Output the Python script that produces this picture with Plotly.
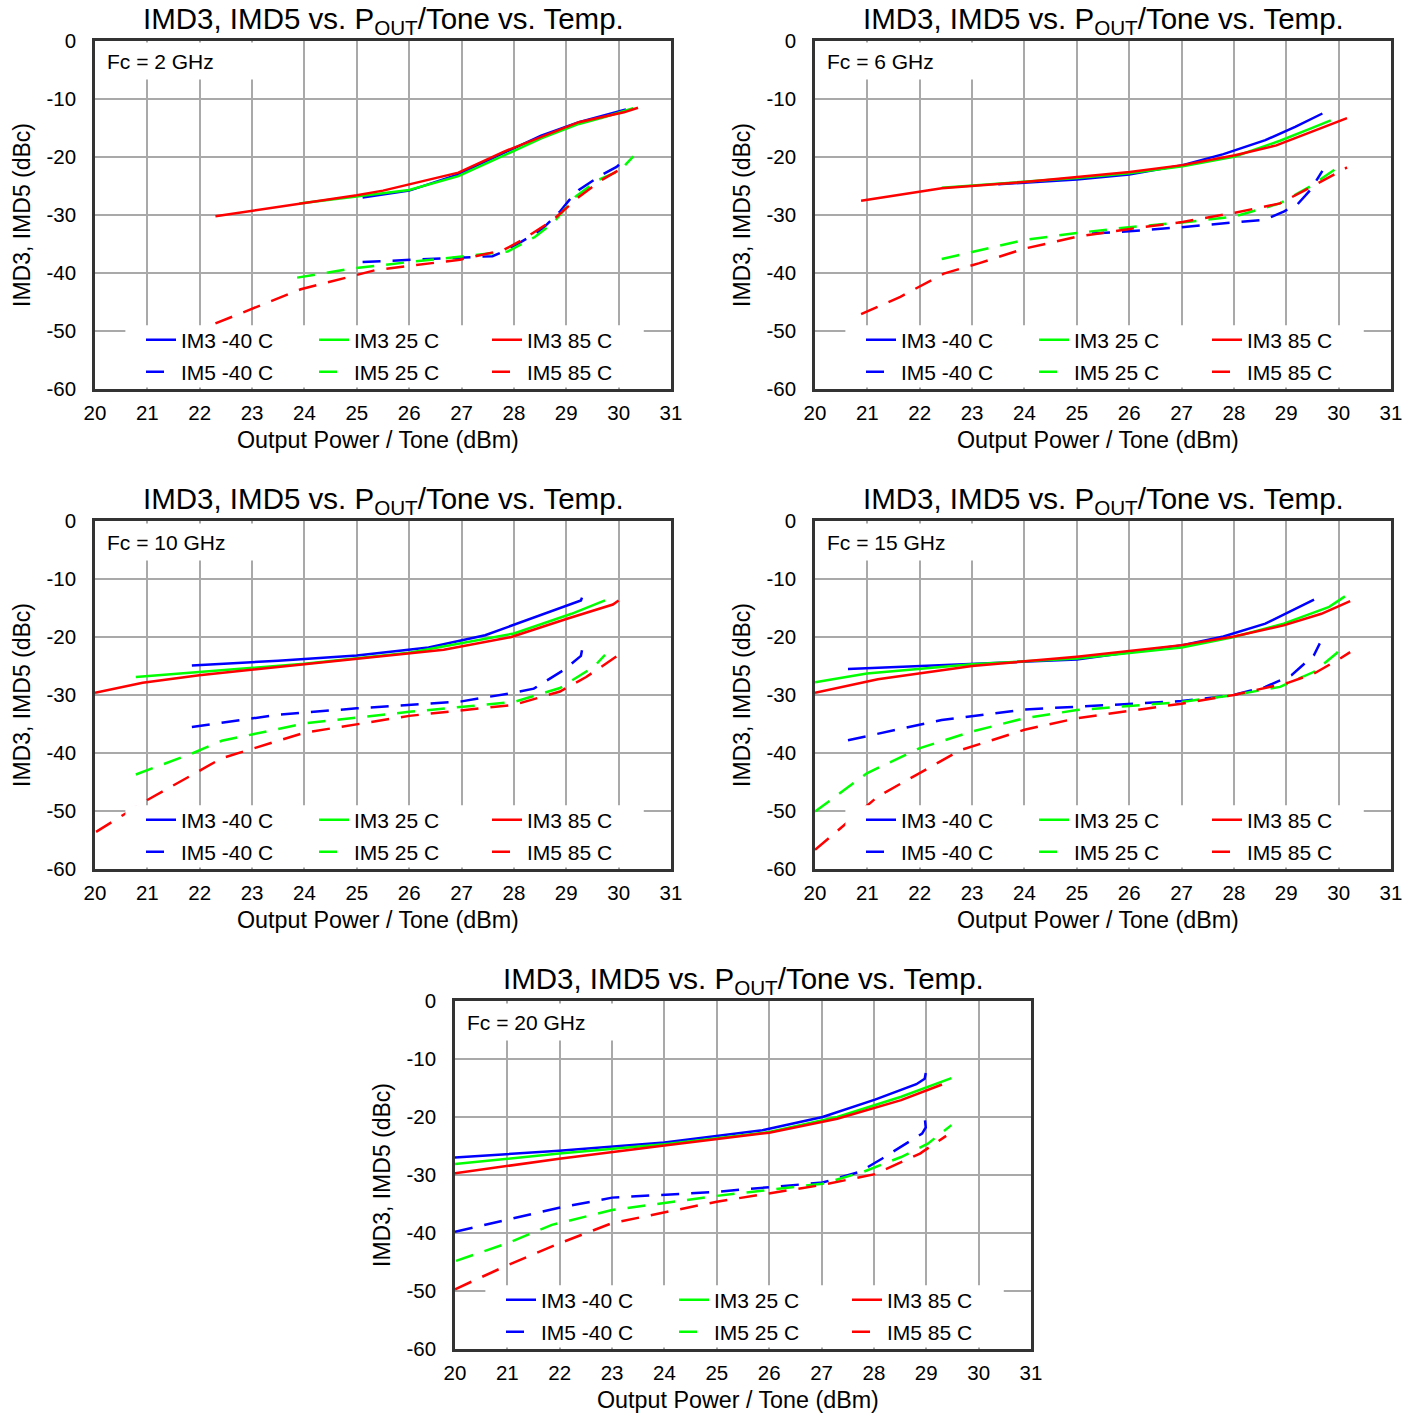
import plotly.graph_objects as go

FIG_W, FIG_H = 1417, 1414
FONT = "Liberation Sans, Arial, sans-serif"

# axis ticks
X_TICKS = list(range(20, 32))
Y_TICKS = [0, -10, -20, -30, -40, -50, -60]
Y_TICK_TEXT = ["0", "-10", "-20", "-30", "-40", "-50", "-60"]

SERIES_NAMES = ["IM3 -40 C", "IM3 25 C", "IM3 85 C", "IM5 -40 C", "IM5 25 C", "IM5 85 C"]
FC_LABELS = ["Fc = 2 GHz", "Fc = 6 GHz", "Fc = 10 GHz", "Fc = 15 GHz", "Fc = 20 GHz"]
TITLE = "IMD3, IMD5 vs. P<sub>OUT</sub>/Tone vs. Temp."

# ---- Fc = 2 GHz : (Pout/tone dBm, dBc) ----
FC2_IM3_N40 = ([25.11, 26.0, 26.94, 27.8, 28.52, 29.24, 29.7, 30.14],
               [-27.0, -25.8, -23.0, -19.3, -16.3, -14.0, -12.9, -11.8])
FC2_IM3_25 = ([23.9, 25.0, 26.0, 26.94, 27.8, 28.52, 29.24, 29.7, 30.28],
              [-28.0, -26.8, -25.7, -23.3, -19.7, -16.8, -14.3, -13.2, -11.6])
FC2_IM3_85 = ([22.3, 24.0, 25.0, 25.5, 26.94, 27.8, 28.52, 29.24, 30.1, 30.37],
              [-30.2, -28.0, -26.6, -25.8, -22.7, -19.1, -16.5, -14.0, -12.3, -11.5])
FC2_IM5_N40 = ([25.11, 26.01, 27.09, 27.59, 27.8, 28.09, 28.52, 28.88, 29.06, 29.24, 29.67, 29.96, 30.14],
               [-38.1, -37.7, -37.2, -37.1, -36.3, -34.9, -32.6, -29.4, -27.4, -25.7, -23.1, -21.7, -20.3])
FC2_IM5_25 = ([23.86, 24.93, 26.01, 27.09, 27.88, 28.4, 28.77, 28.95, 29.17, 29.6, 30.03, 30.28],
              [-40.8, -39.2, -38.1, -37.1, -36.3, -33.8, -31.2, -29.2, -26.9, -24.0, -22.3, -19.9])
FC2_IM5_85 = ([22.3, 23.93, 25.36, 26.97, 27.8, 28.16, 28.74, 29.24, 29.67, 30.17],
              [-48.7, -42.8, -39.5, -37.7, -36.05, -34.3, -30.9, -26.9, -24.0, -21.4])

# ---- Fc = 6 GHz ----
FC6_IM3_N40 = ([23.5, 25.0, 26.0, 27.02, 27.8, 28.6, 29.17, 29.69],
               [-24.7, -23.9, -23.0, -21.4, -19.5, -17.1, -14.8, -12.5])
FC6_IM3_25 = ([22.42, 25.0, 26.0, 27.02, 28.02, 28.88, 29.46, 29.85],
              [-25.3, -23.6, -22.8, -21.6, -19.9, -17.2, -15.1, -13.7])
FC6_IM3_85 = ([20.88, 22.42, 24.0, 25.0, 26.01, 27.02, 28.02, 28.81, 29.24, 29.96, 30.16],
              [-27.55, -25.4, -24.3, -23.4, -22.6, -21.4, -19.7, -18.0, -16.5, -14.1, -13.3])
FC6_IM5_N40 = ([25.29, 26.0, 27.0, 28.02, 28.6, 28.95, 29.2, 29.46, 29.69],
               [-33.2, -32.8, -32.1, -31.3, -30.8, -29.4, -28.3, -25.7, -22.4])
FC6_IM5_25 = ([22.42, 24.0, 25.0, 26.0, 27.0, 28.0, 28.88, 29.45, 29.92],
              [-37.6, -34.3, -33.1, -32.1, -31.3, -30.3, -28.0, -25.1, -22.2])
FC6_IM5_85 = ([20.88, 21.63, 22.46, 23.14, 24.0, 25.0, 26.01, 27.02, 28.02, 28.88, 29.53, 30.16],
              [-47.1, -44.1, -40.1, -38.3, -35.8, -33.75, -32.4, -31.2, -29.6, -28.0, -24.9, -21.8])

# ---- Fc = 10 GHz ----
FC10_IM3_N40 = ([21.85, 23.5, 25.0, 26.37, 27.45, 28.16, 28.88, 29.28, 29.3],
                [-24.9, -24.1, -23.2, -21.8, -19.7, -17.4, -15.1, -13.7, -13.2])
FC10_IM3_25 = ([20.78, 21.99, 24.0, 26.0, 27.0, 28.0, 29.1, 29.74],
               [-26.9, -26.0, -24.6, -22.7, -21.1, -19.4, -16.0, -13.7])
FC10_IM3_85 = ([20.0, 20.91, 21.99, 24.0, 25.0, 26.66, 27.95, 29.03, 29.89, 30.0],
               [-29.6, -27.9, -26.6, -24.7, -23.8, -22.2, -20.0, -16.8, -14.4, -13.7])
FC10_IM5_N40 = ([21.85, 23.5, 25.0, 27.0, 28.0, 28.38, 28.95, 29.28, 29.3],
                [-35.5, -33.4, -32.3, -31.1, -29.6, -28.9, -25.7, -23.25, -22.3])
FC10_IM5_25 = ([20.78, 21.85, 22.42, 24.0, 26.0, 28.0, 28.88, 29.53, 29.74],
               [-43.7, -40.1, -37.9, -34.9, -32.9, -31.2, -28.8, -25.1, -23.1])
FC10_IM5_85 = ([20.02, 21.0, 21.85, 22.42, 24.0, 26.0, 28.0, 28.88, 29.38, 30.0],
               [-53.6, -48.1, -43.8, -40.9, -36.5, -33.6, -31.7, -29.4, -26.9, -23.1])

# ---- Fc = 15 GHz ----
FC15_IM3_N40 = ([20.63, 23.0, 25.0, 27.02, 27.8, 28.6, 29.53],
                [-25.5, -24.7, -23.9, -21.4, -19.9, -17.7, -13.55])
FC15_IM3_25 = ([20.0, 20.99, 23.0, 25.0, 27.0, 28.0, 28.95, 29.82, 30.12],
               [-27.8, -26.3, -24.7, -23.7, -21.8, -20.0, -17.7, -14.8, -13.0])
FC15_IM3_85 = ([20.0, 21.2, 23.0, 25.0, 27.0, 28.0, 28.95, 29.67, 30.22],
               [-29.6, -27.3, -25.0, -23.4, -21.4, -19.9, -18.0, -16.0, -13.8])
FC15_IM5_N40 = ([20.63, 22.42, 24.0, 26.0, 27.0, 28.0, 28.6, 29.1, 29.53, 29.64],
                [-37.8, -34.3, -32.5, -31.6, -31.05, -30.0, -28.6, -26.6, -23.1, -21.1])
FC15_IM5_25 = ([20.0, 20.99, 21.99, 23.0, 24.0, 25.0, 27.0, 28.0, 28.88, 29.53, 29.96, 30.12],
               [-50.1, -43.5, -39.2, -36.3, -34.0, -32.6, -31.2, -30.0, -28.6, -26.0, -22.8, -21.1])
FC15_IM5_85 = ([20.0, 20.6, 21.2, 21.99, 22.78, 24.0, 25.0, 27.0, 28.0, 29.03, 29.53, 30.03, 30.22],
               [-56.7, -52.1, -47.5, -43.5, -39.5, -36.0, -34.0, -31.5, -30.0, -27.9, -26.3, -23.7, -22.6])

# ---- Fc = 20 GHz ----
FC20_IM3_N40 = ([20.0, 21.99, 24.0, 25.87, 27.02, 28.02, 28.81, 28.97, 28.99],
                [-27.0, -25.8, -24.4, -22.3, -20.0, -17.0, -14.35, -13.4, -12.4])
FC20_IM3_25 = ([20.0, 21.99, 24.0, 26.0, 27.3, 28.52, 29.48],
               [-28.1, -26.3, -24.7, -22.6, -20.0, -16.5, -13.3])
FC20_IM3_85 = ([20.0, 21.99, 24.0, 26.0, 27.3, 28.52, 29.3],
               [-29.7, -27.2, -24.9, -22.7, -20.3, -17.1, -14.4])
FC20_IM5_N40 = ([20.0, 20.99, 21.99, 23.0, 25.0, 27.02, 27.73, 28.16, 28.92, 28.99, 28.97],
                [-39.8, -37.8, -35.65, -33.9, -32.9, -31.3, -29.45, -27.15, -22.85, -21.8, -20.0])
FC20_IM5_25 = ([20.02, 20.99, 21.85, 23.0, 25.0, 27.02, 27.8, 28.52, 29.03, 29.48],
               [-44.8, -41.8, -38.6, -36.05, -33.6, -31.5, -29.45, -26.9, -24.6, -21.4])
FC20_IM5_85 = ([20.0, 20.99, 21.99, 23.0, 25.0, 27.02, 28.02, 28.88, 29.38],
               [-49.7, -45.6, -41.8, -38.3, -34.6, -31.7, -29.85, -26.3, -23.25])

PANEL_SERIES = [
    [FC2_IM3_N40, FC2_IM3_25, FC2_IM3_85, FC2_IM5_N40, FC2_IM5_25, FC2_IM5_85],
    [FC6_IM3_N40, FC6_IM3_25, FC6_IM3_85, FC6_IM5_N40, FC6_IM5_25, FC6_IM5_85],
    [FC10_IM3_N40, FC10_IM3_25, FC10_IM3_85, FC10_IM5_N40, FC10_IM5_25, FC10_IM5_85],
    [FC15_IM3_N40, FC15_IM3_25, FC15_IM3_85, FC15_IM5_N40, FC15_IM5_25, FC15_IM5_85],
    [FC20_IM3_N40, FC20_IM3_25, FC20_IM3_85, FC20_IM5_N40, FC20_IM5_25, FC20_IM5_85],
]

# styling
COLORS = ["#0000ff", "#00ff00", "#ff0000"]
DASH = "18px,12px"
LINE_W = 2.5
GRID = "#a9a9a9"
FRAME = "#333333"

# plot-area pixel boxes (left, top) and size
PANEL_PX = [(95, 41), (815, 41), (95, 521), (815, 521), (455, 1001)]
PW, PH = 576, 348
LEG_DX = 46            # legend left offset inside plot
LEG_ROWS = [299, 331]  # legend row centres below plot top

fig = go.Figure()
layout = dict(annotations=[], shapes=[])

for i, ((left, top), series) in enumerate(zip(PANEL_PX, PANEL_SERIES), start=1):
    sfx = "" if i == 1 else str(i)
    xa, ya = "x" + sfx, "y" + sfx

    for j, (xs, ys) in enumerate(series):
        row = j // 3
        k = 2 * (i - 1) + row + 1
        leg = "legend" if k == 1 else f"legend{k}"
        fig.add_trace(go.Scatter(
            x=xs, y=ys, mode="lines", name=SERIES_NAMES[j],
            xaxis=xa, yaxis=ya, legend=leg,
            line=dict(color=COLORS[j % 3], width=LINE_W,
                      dash="solid" if row == 0 else DASH),
            hoverinfo="x+y+name",
        ))

    for row in range(2):
        k = 2 * (i - 1) + row + 1
        leg = "legend" if k == 1 else f"legend{k}"
        layout[leg] = dict(
            orientation="h", x=(left + LEG_DX) / FIG_W, xanchor="left",
            y=1 - (top + LEG_ROWS[row]) / FIG_H, yanchor="middle",
            bgcolor="rgba(0,0,0,0)", borderwidth=0,
            font=dict(family=FONT, size=21, color="black"),
            entrywidth=128, entrywidthmode="pixels", itemwidth=30,
            traceorder="normal",
        )

    axis_common = dict(showgrid=True, gridcolor=GRID, gridwidth=1.5,
                       showline=True, linecolor=FRAME, linewidth=2.5, mirror=True,
                       zeroline=False, ticks="", automargin=False,
                       tickfont=dict(family=FONT, size=20.5, color="black"),
                       fixedrange=True)
    layout["xaxis" + sfx] = dict(axis_common, domain=[left / FIG_W, (left + PW) / FIG_W],
                                  range=[20, 31], tickmode="array", tickvals=X_TICKS,
                                  anchor=ya, ticklabelstandoff=4)
    layout["yaxis" + sfx] = dict(axis_common, domain=[1 - (top + PH) / FIG_H, 1 - top / FIG_H],
                                  range=[-60, 0], tickmode="array", tickvals=Y_TICKS,
                                  ticktext=Y_TICK_TEXT, anchor=xa, ticklabelstandoff=12)

    # white box behind legend (hides grid and traces like the original)
    layout["shapes"].append(dict(type="rect", xref=xa, yref=ya, x0=20.58, x1=30.48,
                                 y0=-59.75, y1=-49.0, fillcolor="white",
                                 line=dict(width=0), layer="above"))

    dom_x, dom_y = xa + " domain", ya + " domain"
    layout["annotations"] += [
        dict(text=TITLE, xref=dom_x, yref=dom_y, x=0.5, y=1, xanchor="center",
             yanchor="bottom", yshift=0, showarrow=False,
             font=dict(family=FONT, size=29.5, color="black")),
        dict(text=FC_LABELS[i - 1], xref=dom_x, yref=dom_y, x=0, y=1, xanchor="left",
             yanchor="top", xshift=3.5, yshift=-1.5, showarrow=False, align="left",
             width=150, height=22, borderpad=7, bgcolor="white",
             font=dict(family=FONT, size=21, color="black")),
        dict(text="Output Power / Tone (dBm)", xref=dom_x, yref=dom_y, x=0.5, y=0,
             xanchor="center", yanchor="middle", xshift=-5, yshift=-51, showarrow=False,
             font=dict(family=FONT, size=23.3, color="black")),
        dict(text="IMD3, IMD5 (dBc)", xref=dom_x, yref=dom_y, x=0, y=0.5,
             xanchor="center", yanchor="middle", xshift=-73, textangle=-90,
             showarrow=False, font=dict(family=FONT, size=23, color="black")),
    ]

fig.update_layout(
    width=FIG_W, height=FIG_H, margin=dict(l=0, r=0, t=0, b=0, autoexpand=False),
    paper_bgcolor="white", plot_bgcolor="white",
    font=dict(family=FONT, color="black"),
    **layout,
)

# drop the browser's default body margin so the figure fills the window exactly
fig.write_html("out.html", config={"displayModeBar": False},
               post_script="document.body.style.margin = '0px';")
